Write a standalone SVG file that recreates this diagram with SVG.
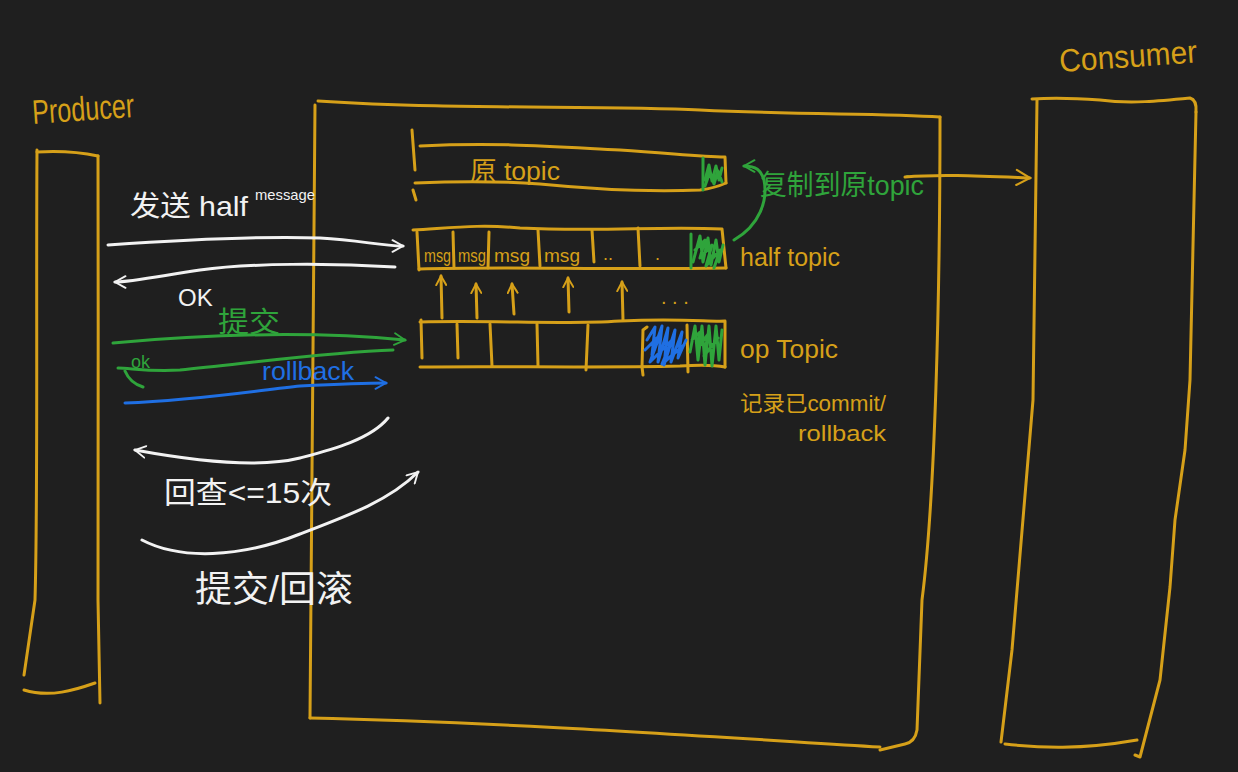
<svg xmlns="http://www.w3.org/2000/svg" width="1238" height="772" viewBox="0 0 1238 772">
<style>
.y{fill:none;stroke:#d6a019;stroke-width:3;stroke-linecap:round;stroke-linejoin:round}
.w{fill:none;stroke:#f2f2f2;stroke-width:3;stroke-linecap:round;stroke-linejoin:round}
.g{fill:none;stroke:#2fa43b;stroke-width:3;stroke-linecap:round;stroke-linejoin:round}
.b{fill:none;stroke:#1f6fe3;stroke-width:3;stroke-linecap:round;stroke-linejoin:round}
text{font-family:"Liberation Sans","Noto Sans CJK SC",sans-serif}
.ty{fill:#d6a019}.tw{fill:#f2f2f2}.tg{fill:#2fa43b}.tb{fill:#1f6fe3}
</style>
<defs>
<marker id="mw" viewBox="0 0 12 12" refX="10" refY="6" markerWidth="14" markerHeight="14" markerUnits="userSpaceOnUse" orient="auto"><path d="M1,1 L10,6 L1,11" fill="none" stroke="#f2f2f2" stroke-width="1.6" stroke-linecap="round"/></marker>
<marker id="mg" viewBox="0 0 12 12" refX="10" refY="6" markerWidth="14" markerHeight="14" markerUnits="userSpaceOnUse" orient="auto"><path d="M1,1 L10,6 L1,11" fill="none" stroke="#2fa43b" stroke-width="1.6" stroke-linecap="round"/></marker>
<marker id="mb" viewBox="0 0 12 12" refX="10" refY="6" markerWidth="14" markerHeight="14" markerUnits="userSpaceOnUse" orient="auto"><path d="M1,1 L10,6 L1,11" fill="none" stroke="#1f6fe3" stroke-width="1.6" stroke-linecap="round"/></marker>
<marker id="my" viewBox="0 0 12 12" refX="10" refY="6" markerWidth="18" markerHeight="18" markerUnits="userSpaceOnUse" orient="auto"><path d="M1,1 L10,6 L1,11" fill="none" stroke="#d6a019" stroke-width="1.4" stroke-linecap="round"/></marker>
<marker id="myu" viewBox="0 0 12 12" refX="10" refY="6" markerWidth="12" markerHeight="12" markerUnits="userSpaceOnUse" orient="auto"><path d="M1,1 L10,6 L1,11" fill="none" stroke="#d6a019" stroke-width="2" stroke-linecap="round"/></marker>
</defs>
<rect width="1238" height="772" fill="#1f1f1f"/>

<g id="producer">
<path class="y" d="M37,150 C 36,300 38,500 35,600 L 24,675"/>
<path class="y" d="M37,152 Q 70,150 98,156"/>
<path class="y" d="M98,156 C 99,300 97,500 98,600 L 100,703"/>
<path class="y" d="M24,690 C 50,698 75,690 95,683"/>
<text class="ty" x="33" y="124" font-size="34" textLength="102" lengthAdjust="spacingAndGlyphs" transform="rotate(-4 33 124)">Producer</text>
</g>

<g id="broker">
<path class="y" d="M318,101 C 450,110 600,105 700,110 C 800,115 880,113 940,117"/>
<path class="y" d="M315,105 C 313,300 312,500 310,718"/>
<path class="y" d="M940,117 C 940,300 935,500 922,600 L 917,730 Q 915,742 905,744 L 880,750"/>
<path class="y" d="M310,718 C 500,722 700,736 880,747"/>
</g>

<g id="consumer">
<path class="y" d="M1032,99 Q 1060,97 1100,100 C 1130,104 1160,101 1190,98 Q 1197,100 1196,112"/>
<path class="y" d="M1037,100 L 1033,400 L 1012,650 L 1001,742"/>
<path class="y" d="M1196,112 L 1190,380 L 1185,450 L 1175,520 L 1170,587 L 1160,680 L 1140,757 L 1135,755"/>
<path class="y" d="M1005,744 C 1040,748 1080,750 1137,740"/>
<text class="ty" x="1060" y="72" font-size="32" textLength="138" lengthAdjust="spacingAndGlyphs" transform="rotate(-4 1060 72)">Consumer</text>
</g>

<g id="origTopic">
<path class="y" d="M412,130 L 415,170"/>
<path class="y" d="M413,190 L 416,200"/>
<path class="y" d="M420,146 C 500,142 560,147 620,150 C 670,153 700,157 725,157 L 726,183"/>
<path class="y" d="M415,183 C 460,181 500,181 540,184 C 600,190 650,192 700,190 Q 715,188 726,183"/>
<path class="g" d="M703,158 L 703,190"/>
<path class="g" d="M705,180 L709,165 L712,181 L716,166 L719,180 L722,168 M705,186 L710,172 L714,184 L718,171 L722,182" stroke-width="2.5"/>
<text class="ty" x="470" y="180" font-size="26" textLength="90" lengthAdjust="spacingAndGlyphs">原 topic</text>
</g>

<g id="halfTopic">
<path class="y" d="M413,230 C 450,228 480,224 520,228 C 600,232 660,226 722,229 L 726,268"/>
<path class="y" d="M417,232 L 419,270"/>
<path class="y" d="M419,269 C 500,266 600,270 726,268"/>
<path class="y" d="M453,232 L 454,268 M489,232 L 488,268 M538,230 L 540,266 M592,230 L 594,262 M638,228 L 640,266"/>
<path class="g" d="M691,234 L 691,268"/>
<path class="g" d="M693,262 L700,236 L703,262 L708,238 L711,265 L716,240 L719,262 L723,245 M695,250 L705,240 L700,258 L712,245 L706,266 L720,250 L714,268" stroke-width="2.5"/>
<text class="ty" x="424" y="262" font-size="18" textLength="27" lengthAdjust="spacingAndGlyphs">msg</text>
<text class="ty" x="458" y="262" font-size="18" textLength="28" lengthAdjust="spacingAndGlyphs">msg</text>
<text class="ty" x="494" y="262" font-size="18" textLength="36" lengthAdjust="spacingAndGlyphs">msg</text>
<text class="ty" x="544" y="262" font-size="18" textLength="36" lengthAdjust="spacingAndGlyphs">msg</text>
<text class="ty" x="603" y="260" font-size="18">..</text>
<text class="ty" x="655" y="260" font-size="18">.</text>
<text class="ty" x="740" y="266" font-size="26" textLength="100" lengthAdjust="spacingAndGlyphs">half topic</text>
</g>

<g id="opTopic">
<path class="y" d="M420,322 C 500,320 560,325 620,321 C 680,318 710,322 725,321 L 725,367"/>
<path class="y" d="M421,320 L 422,358"/>
<path class="y" d="M420,367 C 500,366 600,368 680,366 Q 710,364 725,367"/>
<path class="y" d="M457,324 L 458,358 M490,324 L 492,366 M537,324 L 538,366 M588,325 L 586,370 M643,330 L 642,367 L 643,375 M643,330 L 647,327 M687,325 L 688,372"/>
<path class="b" d="M647,340 L655,327 L652,355 L662,326 L658,362 L668,328 L664,365 L675,330 L671,362 L682,332 L678,358 L686,340 M645,350 L660,335 L650,362 L672,340 L662,364 L684,345" stroke-width="3"/>
<path class="g" d="M690,352 L695,326 L698,360 L702,326 L705,365 L709,326 L712,366 L716,326 L719,360 L722,330 M692,340 L700,332 L697,350 L708,334 L704,356 L718,338" stroke-width="2.5"/>
<text class="ty" x="740" y="358" font-size="26" textLength="98" lengthAdjust="spacingAndGlyphs">op Topic</text>
<text class="ty" x="740" y="411" font-size="22" textLength="146" lengthAdjust="spacingAndGlyphs">记录已commit/</text>
<text class="ty" x="798" y="441" font-size="22" textLength="88" lengthAdjust="spacingAndGlyphs">rollback</text>
</g>

<g id="connectors">
<path class="y" d="M442,318 L 441,276" marker-end="url(#myu)"/>
<path class="y" d="M477,318 L 476,284" marker-end="url(#myu)"/>
<path class="y" d="M514,314 L 512,284" marker-end="url(#myu)"/>
<path class="y" d="M569,312 L 568,278" marker-end="url(#myu)"/>
<path class="y" d="M623,320 L 622,282" marker-end="url(#myu)"/>
<text class="ty" x="661" y="304" font-size="20">. . .</text>

<path class="g" d="M734,240 C 760,225 768,200 764,180 C 761,170 756,166 744,166" marker-end="url(#mg)"/>
<text class="tg" x="760" y="195" font-size="28" textLength="164" lengthAdjust="spacingAndGlyphs">复制到原topic</text>
<path class="y" d="M905,177 C 940,174 980,176 1030,178" marker-end="url(#my)"/>

<text class="tw" x="130" y="216" font-size="28"><tspan textLength="118" lengthAdjust="spacingAndGlyphs">发送 half</tspan><tspan x="255" y="200" font-size="15" textLength="60" lengthAdjust="spacingAndGlyphs">message</tspan></text>
<path class="w" d="M108,245 C 180,240 260,236 320,238 C 360,240 380,246 403,246" marker-end="url(#mw)"/>
<path class="w" d="M395,267 C 330,263 250,263 200,270 C 160,276 130,282 115,282" marker-end="url(#mw)"/>
<text class="tw" x="178" y="306" font-size="24">OK</text>
<text class="tg" x="218" y="332" font-size="28" textLength="62" lengthAdjust="spacingAndGlyphs">提交</text>
<path class="g" d="M113,343 C 200,335 300,330 405,340" marker-end="url(#mg)"/>
<path class="g" d="M393,350 C 330,352 250,363 180,370 C 150,372 130,368 118,368 M125,371 Q 130,383 143,387"/>
<text class="tg" x="131" y="368" font-size="18">ok</text>
<text class="tb" x="262" y="380" font-size="25" textLength="92" lengthAdjust="spacingAndGlyphs">rollback</text>
<path class="b" d="M125,403 C 200,400 260,390 300,386 C 340,384 370,383 386,383" marker-end="url(#mb)"/>

<path class="w" d="M388,418 C 370,440 330,450 300,458 C 260,468 200,462 135,450" marker-end="url(#mw)"/>
<text class="tw" x="164" y="503" font-size="30" textLength="168" lengthAdjust="spacingAndGlyphs">回查&lt;=15次</text>
<path class="w" d="M142,540 C 180,560 240,558 300,534 C 350,515 390,500 418,472" marker-end="url(#mw)"/>
<text class="tw" x="195" y="602" font-size="36" textLength="158" lengthAdjust="spacingAndGlyphs">提交/回滚</text>
</g>
</svg>
